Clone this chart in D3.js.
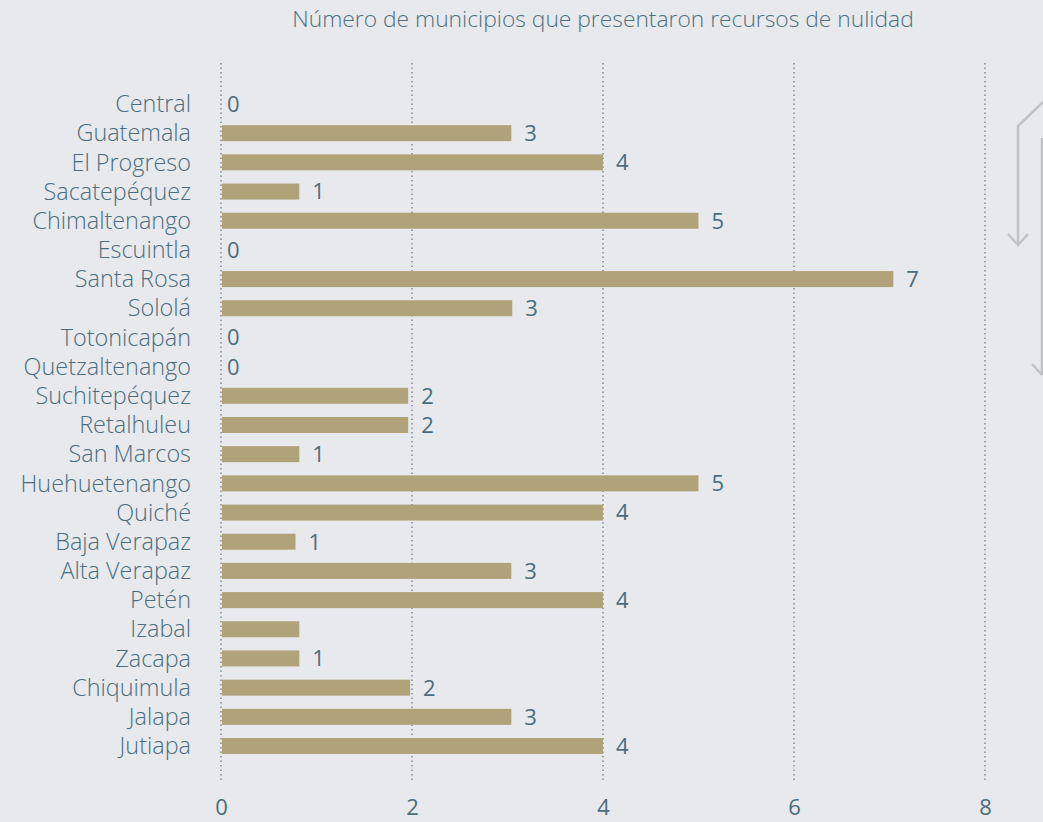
<!DOCTYPE html>
<html>
<head>
<meta charset="utf-8">
<script src="https://cdnjs.cloudflare.com/ajax/libs/d3/7.8.5/d3.min.js"></script>
<style>
  body { margin: 0; background: #e7e9ec; }
  svg text { font-family: "Open Sans", sans-serif; }
</style>
</head>
<body>
<div id="chart"></div>
<script>
// departments, top to bottom
var departments = ["Central", "Guatemala", "El Progreso", "Sacatepéquez", "Chimaltenango",
    "Escuintla", "Santa Rosa", "Sololá", "Totonicapán", "Quetzaltenango", "Suchitepéquez",
    "Retalhuleu", "San Marcos", "Huehuetenango", "Quiché", "Baja Verapaz", "Alta Verapaz",
    "Petén", "Izabal", "Zacapa", "Chiquimula", "Jalapa", "Jutiapa"];

// bar lengths as drawn in the picture
var barValues = [0, 3.04, 4, 0.82, 5, 0, 7.04, 3.05, 0, 0, 1.96,
    1.96, 0.82, 5, 4, 0.78, 3.04, 4, 0.82, 0.82, 1.98, 3.04, 4];

// numbers printed next to bars (null = no label)
var barLabels = [0, 3, 4, 1, 5, 0, 7, 3, 0, 0, 2,
    2, 1, 5, 4, 1, 3, 4, null, 1, 2, 3, 4];

var xTicks = [0, 2, 4, 6, 8];

var title = "Número de municipios que presentaron recursos de nulidad";

(function() {
    var width = 1043,
        height = 822;

    var textColor = "#4a6e80",
        barColor = "#b0a279";

    var svg = d3.select("#chart")
        .append("svg")
        .attr("width", width)
        .attr("height", height)
        .style("background", "#e7e9ec");

    var x = d3.scaleLinear().domain([0, 8]).range([221, 985]);
    var y = d3.scalePoint().domain(departments).range([104, 746]);
    var barH = 16;

    // title
    svg.append("text")
        .attr("x", 603)
        .attr("y", 27)
        .attr("text-anchor", "middle")
        .attr("fill", "#4d7282")
        .style("font-size", "22.8px")
        .style("font-weight", 300)
        .text(title);

    // dotted grid
    svg.selectAll(".grid")
        .data(xTicks)
        .enter().append("line")
        .attr("class", "grid")
        .attr("x1", function(d) { return x(d); })
        .attr("x2", function(d) { return x(d); })
        .attr("y1", 63)
        .attr("y2", 783)
        .attr("stroke", "#9aa3ae")
        .attr("stroke-width", 2)
        .attr("stroke-dasharray", "1.5,3");

    // bottom tick labels
    var xAxis = d3.axisBottom(x).tickValues(xTicks).tickSize(0).tickPadding(0);
    var gx = svg.append("g")
        .attr("transform", "translate(0,799)")
        .call(xAxis);
    gx.select(".domain").remove();
    gx.selectAll("text")
        .attr("fill", textColor)
        .style("font-size", "22px")
        .style("font-family", "Open Sans, sans-serif");

    // department labels
    svg.selectAll(".dept")
        .data(departments)
        .enter().append("text")
        .attr("class", "dept")
        .attr("x", 191)
        .attr("y", function(d) { return y(d); })
        .attr("dy", "0.35em")
        .attr("text-anchor", "end")
        .attr("fill", textColor)
        .style("font-size", "23.4px")
        .style("font-weight", 300)
        .text(function(d) { return d; });

    var rows = departments.map(function(d, i) {
        return { name: d, value: barValues[i], label: barLabels[i] };
    });

    // bars
    svg.selectAll(".bar")
        .data(rows.filter(function(d) { return d.value > 0; }))
        .enter().append("rect")
        .attr("class", "bar")
        .attr("x", x(0) + 1)
        .attr("y", function(d) { return y(d.name) - barH / 2; })
        .attr("width", function(d) { return x(d.value) - x(0) - 1; })
        .attr("height", barH)
        .attr("fill", barColor);

    // value labels
    svg.selectAll(".val")
        .data(rows.filter(function(d) { return d.label !== null; }))
        .enter().append("text")
        .attr("class", "val")
        .attr("x", function(d) { return d.value > 0 ? x(d.value) + 13 : x(0) + 6; })
        .attr("y", function(d) { return y(d.name); })
        .attr("dy", "0.36em")
        .attr("fill", textColor)
        .style("font-size", "22px")
        .text(function(d) { return d.label; });

    // arrow decoration on the right edge
    var deco = svg.append("g")
        .attr("fill", "none")
        .attr("stroke", "#bfc2c6")
        .attr("stroke-width", 2.5);
    deco.append("path").attr("d", "M1045,100 L1018,126 L1018,245 M1008,234 L1018,245 L1028,234");
    deco.append("path").attr("d", "M1042,138 L1042,375 M1032,364 L1042,375");
})();
</script>
</body>
</html>
